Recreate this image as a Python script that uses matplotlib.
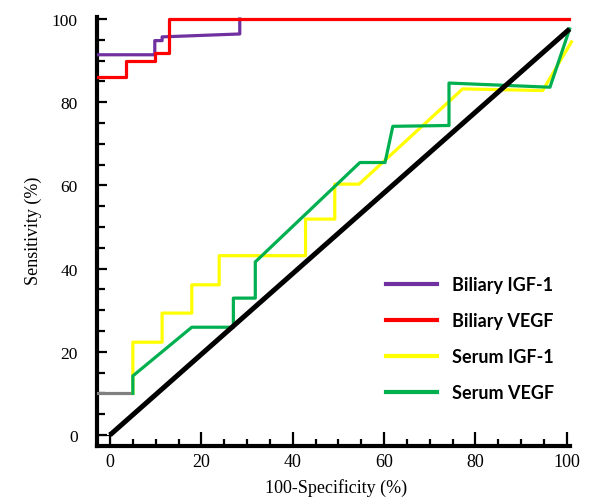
import matplotlib
matplotlib.use("Agg")
import matplotlib.pyplot as plt
from matplotlib.ticker import MultipleLocator

# ---- data ----
biliary_igf1_x = [-3, 9.8, 9.8, 11.4, 11.4, 28.4, 28.4]
biliary_igf1_y = [91.4, 91.4, 94.8, 94.8, 95.7, 96.4, 100]

biliary_vegf_x = [-3, 3.5, 3.5, 9.8, 9.8, 12.9, 12.9, 100.4]
biliary_vegf_y = [86, 86, 90, 90, 91.8, 91.8, 100, 100]

serum_start_x = [-3, 5]
serum_start_y = [10, 10]

serum_igf1_x = [5, 5, 11.4, 11.4, 17.9, 17.9, 23.9, 23.9, 42.8, 42.8, 49.2, 49.2,
                54.5, 77.2, 94.7, 101]
serum_igf1_y = [10, 22.3, 22.3, 29.3, 29.3, 36.1, 36.1, 43.1, 43.1, 51.9, 51.9, 60.3,
                60.3, 83.2, 82.8, 94.5]

serum_vegf_x = [5, 5, 17.9, 27, 27, 31.8, 31.8, 54.7, 60.2, 61.9, 74.2, 74.2, 96.3, 100.6]
serum_vegf_y = [10, 14.2, 25.9, 25.9, 32.9, 32.9, 41.6, 65.5, 65.5, 74.2, 74.4, 84.6, 83.6, 97.6]

reference_x = [0, 100.6]
reference_y = [0, 97.6]

labels = ["Biliary IGF-1", "Biliary VEGF", "Serum IGF-1", "Serum VEGF"]
colors = ["#7030A0", "#FF0000", "#FFFF00", "#00B050"]

x_ticks = [0, 20, 40, 60, 80, 100]
y_ticks = [0, 20, 40, 60, 80, 100]

# ---- figure ----
fig = plt.figure(figsize=(5.98, 5.02), dpi=100)
ax = fig.add_axes([97/598, 55/502, 479/598, 432/502])
ax.set_xlim(-2.85, 102)
ax.set_ylim(-2.65, 101.2)

lw = 2.3
ax.plot(serum_start_x, serum_start_y, color="#808080", lw=lw, zorder=3, solid_capstyle="butt")
ax.plot(serum_igf1_x, serum_igf1_y, color=colors[2], lw=lw, zorder=3, label=labels[2])
ax.plot(serum_vegf_x, serum_vegf_y, color=colors[3], lw=lw, zorder=4, label=labels[3])
ax.plot(reference_x, reference_y, color="black", lw=3.6, zorder=5, solid_capstyle="butt")
ax.plot(biliary_igf1_x, biliary_igf1_y, color=colors[0], lw=lw, zorder=3, label=labels[0])
ax.plot(biliary_vegf_x, biliary_vegf_y, color=colors[1], lw=lw, zorder=4, label=labels[1])

# small corner box at origin
ax.plot([-3, 0, 0], [0, 0, -3], color="black", lw=0.8, zorder=2)

for s in ["top", "right"]:
    ax.spines[s].set_visible(False)
for s in ["left", "bottom"]:
    ax.spines[s].set_linewidth(3)
    ax.spines[s].set_capstyle("projecting")
ax.spines["bottom"].set_bounds(-2.85, 100.6)
ax.spines["left"].set_bounds(-2.65, 100.4)

ax.set_xticks(x_ticks)
ax.set_yticks(y_ticks)
ax.xaxis.set_minor_locator(MultipleLocator(5))
ax.yaxis.set_minor_locator(MultipleLocator(5))
ax.tick_params(axis="x", which="major", direction="in", length=10, width=1.6, pad=5,
               labelsize=13)
ax.tick_params(axis="x", which="minor", direction="in", length=5, width=1.6)
ax.tick_params(axis="y", which="major", direction="in", length=7, width=1.6, pad=14,
               labelsize=12.5)
ax.tick_params(axis="y", which="minor", direction="in", length=5.5, width=1.6)
for lab in ax.get_xticklabels() + ax.get_yticklabels():
    lab.set_fontfamily("Liberation Serif")

ax.set_xlabel("100-Specificity (%)", fontfamily="Liberation Serif", fontsize=13, labelpad=6)
ax.set_ylabel("Sensitivity (%)", fontfamily="Liberation Serif", fontsize=13, labelpad=7)

handles, labs = ax.get_legend_handles_labels()
order = [labs.index(l) for l in labels]
leg = ax.legend([handles[i] for i in order], [labs[i] for i in order],
                loc="upper left", bbox_to_anchor=(386/598, (502-277)/502),
                bbox_transform=fig.transFigure, frameon=False,
                prop={"family": "Lato", "weight": "bold", "size": 13},
                handlelength=2.8, handletextpad=0.85, labelspacing=1.05,
                borderpad=0, borderaxespad=0)
for line in leg.get_lines():
    line.set_linewidth(3)

fig.savefig("out.png", dpi=100)
